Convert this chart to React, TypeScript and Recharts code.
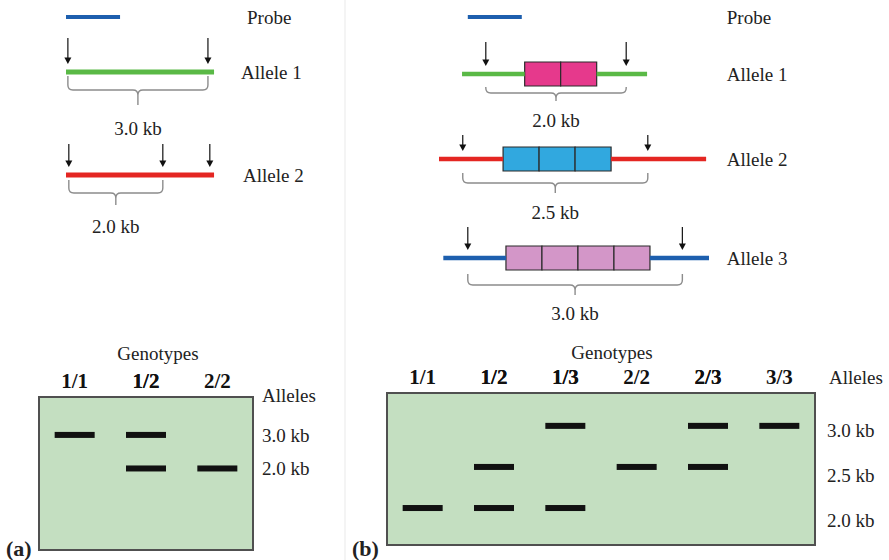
import React from "react";
import {
  ComposedChart,
  ScatterChart,
  Scatter,
  XAxis,
  YAxis,
  ReferenceLine,
  ReferenceArea,
} from "recharts";

const FONT = '"Liberation Serif", "Times New Roman", serif';

// Panel (a): restriction map, positions in kb from the left end of the DNA
const PROBE_A = [0, 1.15];
const ALLELES_A = ["Allele 1", "Allele 2"];
const DNA_A = [
  [0, 3.15],
  [0, 3.15],
];
const SITES_A = [
  [0.04, 3.02],
  [0.06, 2.06, 3.06],
];
const FRAGMENTS_A = [
  [0.04, 3.02],
  [0.06, 2.06],
];
const FRAGMENT_LABELS_A = ["3.0 kb", "2.0 kb"];

// Panel (b): tandem repeat alleles, 0.5 kb per repeat
const PROBE_B = [0.4, 1.15];
const ALLELES_B = ["Allele 1", "Allele 2", "Allele 3"];
const DNA_B = [
  [0.32, 2.89],
  [0, 3.71],
  [0.06, 3.75],
];
const SITES_B = [
  [0.65, 2.6],
  [0.33, 2.9],
  [0.4, 3.38],
];
const REPEAT_START_B = [1.19, 0.89, 0.93];
const REPEAT_COUNT_B = [2, 3, 4];
const REPEAT_KB = 0.5;
const FRAGMENT_LABELS_B = ["2.0 kb", "2.5 kb", "3.0 kb"];

// Gels
const GENOTYPES_A = ["1/1", "1/2", "2/2"];
const BANDS_A = [[3.0], [3.0, 2.0], [2.0]];
const SIZES_A = [3.0, 2.0];
const GENOTYPES_B = ["1/1", "1/2", "1/3", "2/2", "2/3", "3/3"];
const BANDS_B = [[2.0], [2.5, 2.0], [3.0, 2.0], [2.5], [3.0, 2.5], [3.0]];
const SIZES_B = [3.0, 2.5, 2.0];

// colours
const GREEN = "#5ab946";
const RED = "#e42622";
const BLUE = "#1d5fae";
const LINE_COLORS_A = [GREEN, RED];
const LINE_COLORS_B = [GREEN, RED, BLUE];
const BOX_COLORS_B = ["#e6398c", "#31a8df", "#d396c8"];
const GEL_FILL = "#c4dfc1";

// layout
const TRACK_H = 140;
type Panel = { left: number; width: number; marginLeft: number; domain: [number, number]; axisW: number; thick: number };
const PANEL_A: Panel = { left: 0, width: 340, marginLeft: 42.5, domain: [-0.5, 3.5], axisW: 109.5, thick: 5 };
const PANEL_B: Panel = { left: 345, width: 544, marginLeft: 58, domain: [-0.5, 3.9], axisW: 169.2, thick: 4.5 };
const ROW_Y_A = [17, 72, 175];
const ROW_Y_B = [17, 74, 159, 258];

type BraceStyle = { top: number; mid: number; end: number; label: number };
const STYLE_A = {
  gaps: [16.5, 10.5, 12.5],
  arrowTop: [34, 31],
  brace: [
    { top: 4, mid: 18, end: 33, label: 56 },
    { top: 5, mid: 18, end: 30, label: 51 },
  ] as BraceStyle[],
};
const STYLE_B = {
  gaps: [7, 7, 7, 7],
  arrowTop: [32, 24, 31],
  brace: [
    { top: 13, mid: 19, end: 27, label: 46 },
    { top: 14, mid: 24, end: 34, label: 53 },
    { top: 16, mid: 27, end: 37, label: 55 },
  ] as BraceStyle[],
};

const arrowShape = (topOffset: number) => (p: any) => {
  const { cx, cy } = p;
  const tip = cy - 8;
  return (
    <g>
      <line x1={cx} y1={cy - topOffset} x2={cx} y2={tip - 5} stroke="#111" strokeWidth={1.2} />
      <path d={`M${cx - 3.5},${tip - 6.5} L${cx + 3.5},${tip - 6.5} L${cx},${tip} Z`} fill="#111" />
    </g>
  );
};

const braceShape = (st: BraceStyle, label: string) => (p: any) => {
  const x0 = p.x;
  const x1 = p.x + p.width;
  const cx = (x0 + x1) / 2;
  const top = p.y;
  const mid = top + (st.mid - st.top);
  const end = top + (st.end - st.top);
  const r = Math.min(5, st.mid - st.top);
  const d =
    `M${x0},${top} L${x0},${mid - r} Q${x0},${mid} ${x0 + r},${mid} L${cx - r},${mid} Q${cx},${mid} ${cx},${mid + r} L${cx},${end} ` +
    `M${cx},${mid + r} Q${cx},${mid} ${cx + r},${mid} L${x1 - r},${mid} Q${x1},${mid} ${x1},${mid - r} L${x1},${top}`;
  return (
    <g>
      <path d={d} fill="none" stroke="#8c8c8c" strokeWidth={1.4} />
      <text
        x={cx}
        y={top + (st.label - st.top)}
        textAnchor="middle"
        dominantBaseline="central"
        fontSize={19}
        fontFamily={FONT}
        fill="#222"
      >
        {label}
      </text>
    </g>
  );
};

type TrackProps = {
  panel: Panel;
  y: number;
  name: string;
  gap: number;
  color: string;
  thick: number;
  segments: number[][];
  sites?: number[];
  arrowTop?: number;
  repeats?: number[][];
  boxFill?: string;
  fragment?: number[];
  fragmentLabel?: string;
  brace?: BraceStyle;
};

function Track(t: TrackProps) {
  const { panel } = t;
  return (
    <div style={{ position: "absolute", left: panel.left, top: t.y - TRACK_H / 2 }}>
      <ComposedChart
        width={panel.width}
        height={TRACK_H}
        margin={{ top: 0, right: 0, bottom: 0, left: panel.marginLeft }}
      >
        <XAxis type="number" dataKey="x" domain={panel.domain} hide allowDataOverflow />
        <YAxis
          type="number"
          dataKey="y"
          domain={[-TRACK_H / 2, TRACK_H / 2]}
          orientation="right"
          width={panel.axisW}
          ticks={[0]}
          interval={0}
          tickFormatter={() => t.name}
          axisLine={false}
          tickLine={false}
          tickSize={0}
          tickMargin={t.gap}
          tick={{ fontSize: 19, fontFamily: FONT, fill: "#222" }}
          allowDataOverflow
        />
        {t.segments.map((s, i) => (
          <ReferenceLine
            key={`seg${i}`}
            segment={[
              { x: s[0], y: 0 },
              { x: s[1], y: 0 },
            ]}
            stroke={t.color}
            strokeWidth={t.thick}
            ifOverflow="visible"
          />
        ))}
        {(t.repeats ?? []).map((r, i) => (
          <ReferenceArea
            key={`rep${i}`}
            x1={r[0]}
            x2={r[1]}
            y1={-12}
            y2={12}
            fill={t.boxFill}
            fillOpacity={1}
            stroke="#2b2b2b"
            strokeWidth={1.2}
            ifOverflow="visible"
          />
        ))}
        {t.fragment && t.brace && (
          <ReferenceArea
            x1={t.fragment[0]}
            x2={t.fragment[1]}
            y1={-t.brace.top}
            y2={-t.brace.end}
            ifOverflow="visible"
            shape={braceShape(t.brace, t.fragmentLabel ?? "")}
          />
        )}
        {t.sites && (
          <Scatter
            data={t.sites.map((x) => ({ x, y: 0 }))}
            shape={arrowShape(t.arrowTop ?? 30)}
            isAnimationActive={false}
          />
        )}
      </ComposedChart>
    </div>
  );
}

const bandShape = (p: any) => <rect x={p.cx - 20} y={p.cy - 3} width={40} height={6} fill="#111" />;

type GelProps = {
  left: number;
  top: number;
  width: number;
  height: number;
  margin: { top: number; right: number; bottom: number; left: number };
  axisW: number;
  genotypes: string[];
  bands: number[][];
  sizes: number[];
  bandDomain: [number, number];
  labelDomain: [number, number];
  labelGap: number;
};

function Gel(g: GelProps) {
  const data = g.genotypes.flatMap((lane, i) => g.bands[i].map((kb) => ({ lane, kb })));
  return (
    <div style={{ position: "absolute", left: g.left, top: g.top }}>
      <ScatterChart width={g.width} height={g.height} margin={g.margin}>
        <XAxis
          dataKey="lane"
          type="category"
          scale="band"
          orientation="top"
          allowDuplicatedCategory={false}
          height={40}
          interval={0}
          axisLine={false}
          tickLine={false}
          tickSize={0}
          tickMargin={9}
          tick={{ fontSize: 21, fontWeight: 700, fontFamily: FONT, fill: "#111" }}
        />
        <YAxis yAxisId="band" dataKey="kb" type="number" domain={g.bandDomain} hide allowDataOverflow />
        <YAxis
          yAxisId="label"
          type="number"
          orientation="right"
          domain={g.labelDomain}
          ticks={g.sizes}
          interval={0}
          width={g.axisW}
          axisLine={false}
          tickLine={false}
          tickSize={0}
          tickMargin={g.labelGap}
          tickFormatter={(v: number) => `${v.toFixed(1)} kb`}
          tick={{ fontSize: 19, fontFamily: FONT, fill: "#222" }}
          allowDataOverflow
        />
        <ReferenceArea
          yAxisId="band"
          x1={g.genotypes[0]}
          x2={g.genotypes[g.genotypes.length - 1]}
          y1={g.bandDomain[0]}
          y2={g.bandDomain[1]}
          fill={GEL_FILL}
          fillOpacity={1}
          stroke="#505050"
          strokeWidth={2}
          ifOverflow="visible"
        />
        <Scatter yAxisId="band" data={data} shape={bandShape} isAnimationActive={false} />
      </ScatterChart>
    </div>
  );
}

function Note({
  x,
  y,
  size = 19,
  bold = false,
  center = false,
  children,
}: {
  x: number;
  y: number;
  size?: number;
  bold?: boolean;
  center?: boolean;
  children: React.ReactNode;
}) {
  return (
    <div
      style={{
        position: "absolute",
        left: x,
        top: y - size / 2,
        fontSize: size,
        lineHeight: `${size}px`,
        fontWeight: bold ? 700 : 400,
        whiteSpace: "nowrap",
        transform: center ? "translateX(-50%)" : undefined,
      }}
    >
      {children}
    </div>
  );
}

export default function App() {
  document.body.style.margin = "0";
  return (
    <div
      style={{
        position: "relative",
        width: 889,
        height: 560,
        background: "#fff",
        overflow: "hidden",
        fontFamily: FONT,
        color: "#222",
      }}
    >
      <div style={{ position: "absolute", left: 344, top: 0, width: 2, height: 560, background: "#f4f4f4" }} />

      {/* panel (a) map */}
      <Track
        panel={PANEL_A}
        y={ROW_Y_A[0]}
        name="Probe"
        gap={STYLE_A.gaps[0]}
        color={BLUE}
        thick={4}
        segments={[PROBE_A]}
      />
      {ALLELES_A.map((name, i) => (
        <Track
          key={name}
          panel={PANEL_A}
          y={ROW_Y_A[i + 1]}
          name={name}
          gap={STYLE_A.gaps[i + 1]}
          color={LINE_COLORS_A[i]}
          thick={PANEL_A.thick}
          segments={[DNA_A[i]]}
          sites={SITES_A[i]}
          arrowTop={STYLE_A.arrowTop[i]}
          fragment={FRAGMENTS_A[i]}
          fragmentLabel={FRAGMENT_LABELS_A[i]}
          brace={STYLE_A.brace[i]}
        />
      ))}

      {/* panel (b) map */}
      <Track
        panel={PANEL_B}
        y={ROW_Y_B[0]}
        name="Probe"
        gap={STYLE_B.gaps[0]}
        color={BLUE}
        thick={4}
        segments={[PROBE_B]}
      />
      {ALLELES_B.map((name, i) => {
        const start = REPEAT_START_B[i];
        const end = start + REPEAT_COUNT_B[i] * REPEAT_KB;
        const repeats = Array.from({ length: REPEAT_COUNT_B[i] }, (_, k) => [
          start + k * REPEAT_KB,
          start + (k + 1) * REPEAT_KB,
        ]);
        return (
          <Track
            key={name}
            panel={PANEL_B}
            y={ROW_Y_B[i + 1]}
            name={name}
            gap={STYLE_B.gaps[i + 1]}
            color={LINE_COLORS_B[i]}
            thick={PANEL_B.thick}
            segments={[
              [DNA_B[i][0], start],
              [end, DNA_B[i][1]],
            ]}
            repeats={repeats}
            boxFill={BOX_COLORS_B[i]}
            sites={SITES_B[i]}
            arrowTop={STYLE_B.arrowTop[i]}
            fragment={SITES_B[i]}
            fragmentLabel={FRAGMENT_LABELS_B[i]}
            brace={STYLE_B.brace[i]}
          />
        );
      })}

      {/* gels */}
      <Gel
        left={0}
        top={340}
        width={340}
        height={220}
        margin={{ top: 17, right: 0, bottom: 10, left: 39 }}
        axisW={87}
        genotypes={GENOTYPES_A}
        bands={BANDS_A}
        sizes={SIZES_A}
        bandDomain={[-0.43, 4.13]}
        labelDomain={[-0.43, 4.13]}
        labelGap={9}
      />
      <Gel
        left={345}
        top={340}
        width={544}
        height={220}
        margin={{ top: 13, right: 0, bottom: 15, left: 42 }}
        axisW={74}
        genotypes={GENOTYPES_B}
        bands={BANDS_B}
        sizes={SIZES_B}
        bandDomain={[1.55, 3.4]}
        labelDomain={[1.72, 3.41]}
        labelGap={12}
      />

      <Note x={158} y={353} center>
        Genotypes
      </Note>
      <Note x={262} y={395}>
        Alleles
      </Note>
      <Note x={612} y={352} center>
        Genotypes
      </Note>
      <Note x={829} y={377}>
        Alleles
      </Note>
      <Note x={6} y={549} size={22} bold>
        (a)
      </Note>
      <Note x={352} y={549} size={22} bold>
        (b)
      </Note>
    </div>
  );
}
